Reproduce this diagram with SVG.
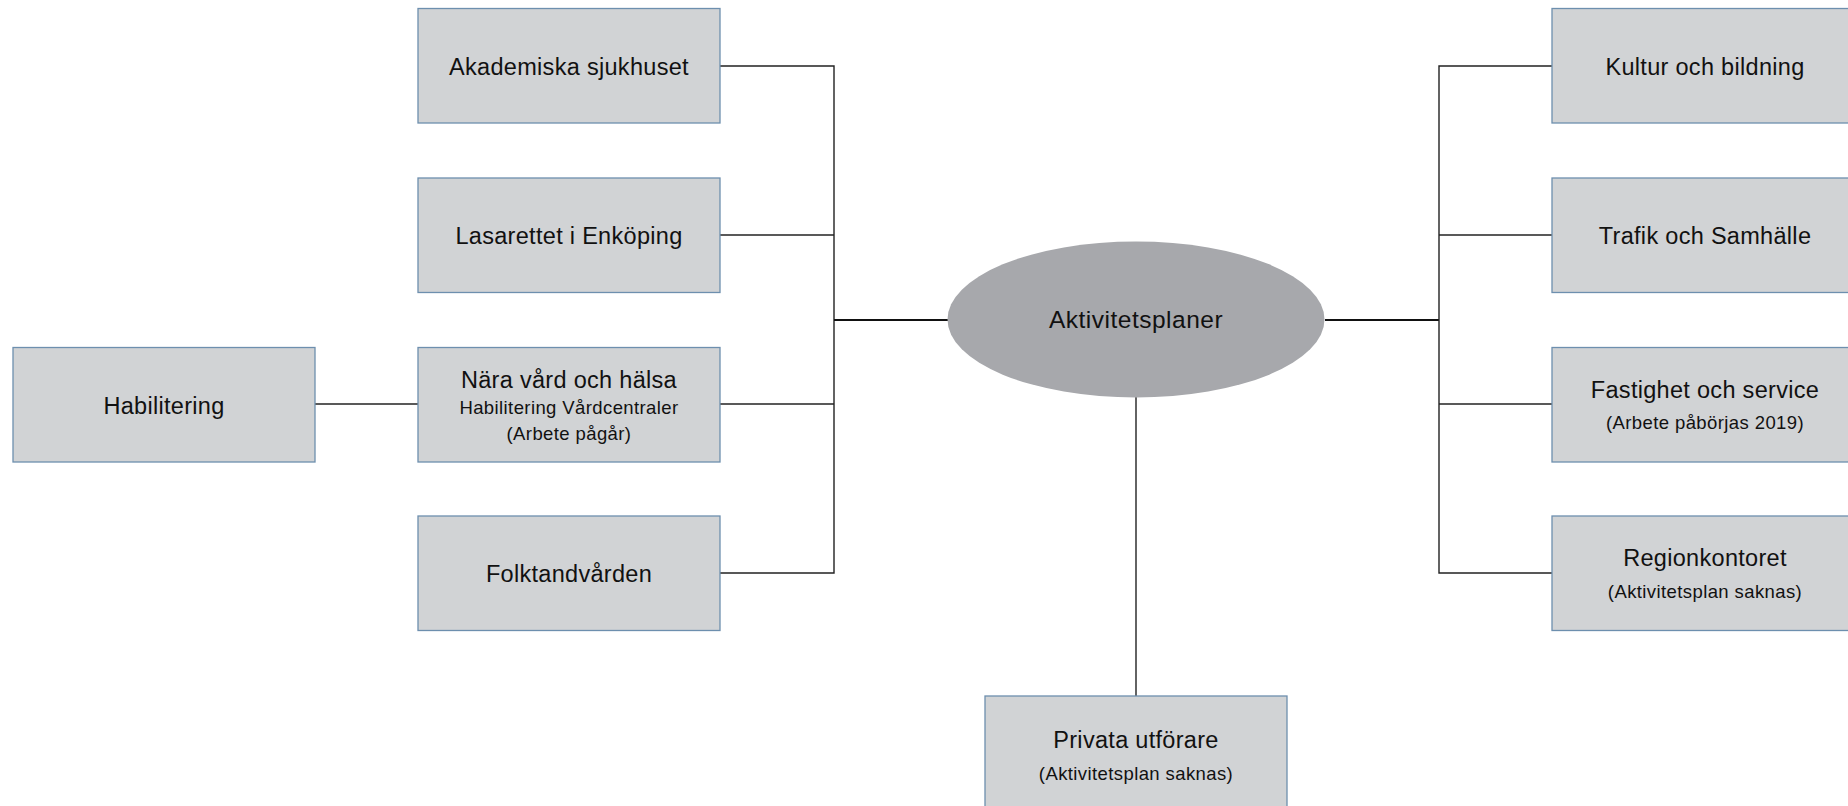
<svg xmlns="http://www.w3.org/2000/svg" width="1848" height="806" viewBox="0 0 1848 806">
<style>
.box{fill:#d1d3d5;stroke:#6d8fae;stroke-width:1.3}
.ell{fill:#a7a8ac;stroke:none}
.t{font-family:"Liberation Sans",Arial,sans-serif;font-size:23.5px;letter-spacing:0.3px;fill:#111;text-anchor:middle}
.s{font-family:"Liberation Sans",Arial,sans-serif;font-size:18.5px;letter-spacing:0.4px;fill:#111;text-anchor:middle}
.big{font-size:24.5px;letter-spacing:0.5px}
.c{fill:none;stroke:#222;stroke-width:1.4}
.c2{fill:none;stroke:#111;stroke-width:2}
</style>
<rect width="1848" height="806" fill="#ffffff"/>
<g id="connectors">
<path class="c" d="M720,66 H834 V573 H720"/>
<path class="c" d="M720,235 H834"/>
<path class="c" d="M720,404 H834"/>
<path class="c2" d="M834,320 H948"/>
<path class="c" d="M315,404 H418"/>
<path class="c2" d="M1325,320 H1439"/>
<path class="c" d="M1552,66 H1439 V573 H1552"/>
<path class="c" d="M1439,235 H1552"/>
<path class="c" d="M1439,404 H1552"/>
<path class="c" d="M1136,397 V696"/>
</g>
<g id="akademiska"><rect class="box" x="418" y="8.5" width="302" height="114.5"/><text class="t" x="569" y="75">Akademiska sjukhuset</text></g>
<g id="lasarettet"><rect class="box" x="418" y="178" width="302" height="114.5"/><text class="t" x="569" y="244">Lasarettet i Enköping</text></g>
<g id="nara-vard"><rect class="box" x="418" y="347.5" width="302" height="114.5"/><text class="t" x="569" y="388">Nära vård och hälsa</text><text class="s" x="569" y="414">Habilitering Vårdcentraler</text><text class="s" x="569" y="440">(Arbete pågår)</text></g>
<g id="folktandvarden"><rect class="box" x="418" y="516" width="302" height="114.5"/><text class="t" x="569" y="582">Folktandvården</text></g>
<g id="habilitering"><rect class="box" x="13" y="347.5" width="302" height="114.5"/><text class="t" x="164" y="414">Habilitering</text></g>
<g id="aktivitetsplaner"><ellipse class="ell" cx="1136" cy="319.5" rx="188.5" ry="78"/><text class="t big" x="1136" y="328">Aktivitetsplaner</text></g>
<g id="kultur"><rect class="box" x="1552" y="8.5" width="304" height="114.5"/><text class="t" x="1705" y="75">Kultur och bildning</text></g>
<g id="trafik"><rect class="box" x="1552" y="178" width="304" height="114.5"/><text class="t" x="1705" y="244">Trafik och Samhälle</text></g>
<g id="fastighet"><rect class="box" x="1552" y="347.5" width="304" height="114.5"/><text class="t" x="1705" y="398">Fastighet och service</text><text class="s" x="1705" y="429">(Arbete påbörjas 2019)</text></g>
<g id="regionkontoret"><rect class="box" x="1552" y="516" width="304" height="114.5"/><text class="t" x="1705" y="566">Regionkontoret</text><text class="s" x="1705" y="598">(Aktivitetsplan saknas)</text></g>
<g id="privata"><rect class="box" x="985" y="696" width="302" height="120"/><text class="t" x="1136" y="748">Privata utförare</text><text class="s" x="1136" y="780">(Aktivitetsplan saknas)</text></g>
</svg>
